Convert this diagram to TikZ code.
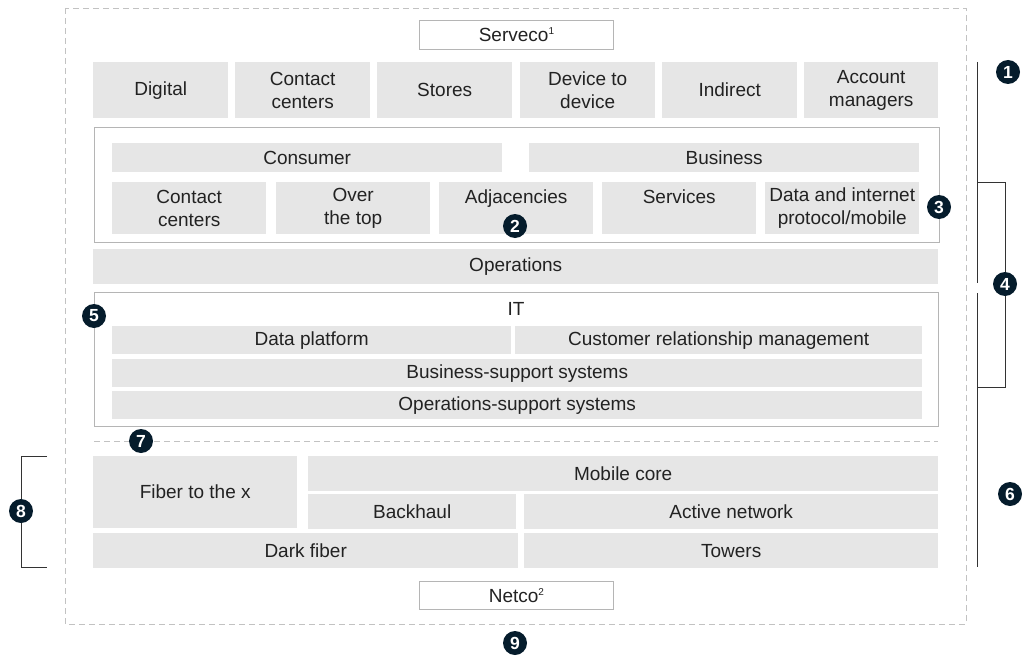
\documentclass[tikz,border=0pt]{standalone}
\usepackage{fontspec}
\setmainfont{Liberation Sans}
\definecolor{txt}{HTML}{222222}
\definecolor{boxgray}{HTML}{E6E6E6}
\definecolor{outl}{HTML}{B5B5B5}
\definecolor{dashc}{HTML}{C2C2C2}
\definecolor{brk}{HTML}{333333}
\definecolor{navy}{HTML}{051C2C}
\newcommand{\mysup}[1]{\raisebox{7pt}{\fontsize{10}{10}\selectfont #1}}
\begin{document}
\begin{tikzpicture}[x=1pt,y=-1pt,
  gbox/.style={fill=boxgray,draw=none,inner sep=0pt,align=center,anchor=north west,text=txt,
    font=\fontsize{19}{23}\selectfont},
  wbox/.style={fill=white,draw=outl,line width=0.9pt,inner sep=0pt,align=center,anchor=north west,text=txt,
    font=\fontsize{19}{23}\selectfont},
  frame/.style={draw=outl,line width=0.9pt,fill=none},
  dashline/.style={draw=dashc,line width=0.9pt,dash pattern=on 6pt off 4pt},
  brline/.style={draw=brk,line width=0.9pt},
  badge/.style={circle,fill=navy,text=white,inner sep=0pt,minimum size=24pt,
    font=\fontsize{17.5}{17.5}\selectfont\bfseries},
  lbl/.style={inner sep=0pt,text=txt,font=\fontsize{19}{23}\selectfont}]
\useasboundingbox (0,0) rectangle (1031,661);
% outer dashed frame
\draw[dashline] (65,8) rectangle (966,624);
% Serveco
\node[wbox,minimum width=194pt,minimum height=29pt] (serveco) at (419,20) {Serveco\mysup{1}};
% top row
\node[gbox,minimum width=135pt,minimum height=56pt] (digital) at (93,62) {Digital};
\node[gbox,minimum width=135pt,minimum height=56pt] (contact) at (235,62) {Contact\\centers};
\node[gbox,minimum width=135pt,minimum height=56pt] (stores) at (377,62) {Stores};
\node[gbox,minimum width=135pt,minimum height=56pt] (device) at (520,62) {Device to\\device};
\node[gbox,minimum width=135pt,minimum height=56pt] (indirect) at (662,62) {Indirect};
\node[gbox,minimum width=134pt,minimum height=56pt] (account) at (804,62) {Account\\managers};
% consumer/business frame
\draw[frame] (94,127) rectangle (939,242);
\node[gbox,minimum width=390pt,minimum height=29pt] (consumer) at (112,143) {Consumer};
\node[gbox,minimum width=390pt,minimum height=29pt] (business) at (529,143) {Business};
\node[gbox,minimum width=154pt,minimum height=52pt] (cc2) at (112,182) {Contact\\centers};
\node[gbox,minimum width=154pt,minimum height=52pt] (ott) at (276,182) {Over\\the top};
\node[gbox,minimum width=154pt,minimum height=52pt] (adj) at (439,182) {Adjacencies\\\mbox{}};
\node[gbox,minimum width=154pt,minimum height=52pt] (serv) at (602,182) {Services\\\mbox{}};
\node[gbox,minimum width=154pt,minimum height=52pt] (dip) at (765,182) {Data and internet\\protocol/mobile};
% operations
\node[gbox,minimum width=845pt,minimum height=35pt] (ops) at (93,249) {Operations};
% IT frame
\draw[frame] (94,292) rectangle (938,426);
\node[lbl] (it) at (516,309) {IT};
\node[gbox,minimum width=399pt,minimum height=28pt] (dp) at (112,326) {Data platform};
\node[gbox,minimum width=407pt,minimum height=28pt] (crm) at (515,326) {Customer relationship management};
\node[gbox,minimum width=810pt,minimum height=28pt] (bss) at (112,359) {Business-support systems};
\node[gbox,minimum width=810pt,minimum height=28pt] (oss) at (112,391) {Operations-support systems};
% separator
\draw[dashline] (94,441) -- (938,441);
% network
\node[gbox,minimum width=204pt,minimum height=72pt] (fttx) at (93,456) {Fiber to the x};
\node[gbox,minimum width=630pt,minimum height=35pt] (mcore) at (308,456) {Mobile core};
\node[gbox,minimum width=208pt,minimum height=35pt] (backhaul) at (308,494) {Backhaul};
\node[gbox,minimum width=414pt,minimum height=35pt] (active) at (524,494) {Active network};
\node[gbox,minimum width=425pt,minimum height=35pt] (dark) at (93,533) {Dark fiber};
\node[gbox,minimum width=414pt,minimum height=35pt] (towers) at (524,533) {Towers};
% Netco
\node[wbox,minimum width=194pt,minimum height=28pt] (netco) at (419,581) {Netco\mysup{2}};
% brackets
\coordinate (l1a) at (977,62);
\coordinate (l1b) at (977,283);
\coordinate (l6a) at (977,293);
\coordinate (l6b) at (977,567);
\coordinate (b4a) at (977,182);
\coordinate (b4b) at (1005,182);
\coordinate (b4c) at (1005,387);
\coordinate (b4d) at (977,387);
\coordinate (b8a) at (47,456);
\coordinate (b8b) at (21,456);
\coordinate (b8c) at (21,567);
\coordinate (b8d) at (47,567);
\draw[brline] (l1a) -- (l1b);
\draw[brline] (l6a) -- (l6b);
\draw[brline] (b4a) -- (b4b) -- (b4c) -- (b4d);
\draw[brline] (b8a) -- (b8b) -- (b8c) -- (b8d);
% badges
\node[badge] (n1) at (1008,72) {1};
\node[badge] (n2) at (515,226) {2};
\node[badge] (n3) at (939,207) {3};
\node[badge] (n4) at (1005,284) {4};
\node[badge] (n5) at (94,316) {5};
\node[badge] (n6) at (1010,494) {6};
\node[badge] (n7) at (141,441) {7};
\node[badge] (n8) at (21,511) {8};
\node[badge] (n9) at (515,643) {9};
\end{tikzpicture}
\end{document}
